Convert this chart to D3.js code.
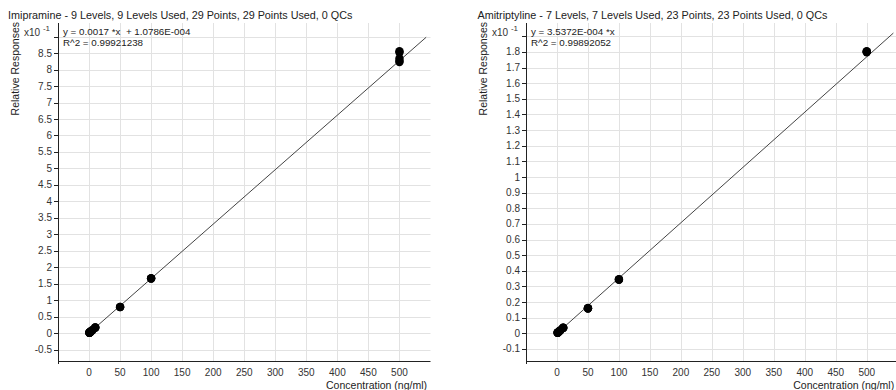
<!DOCTYPE html>
<html>
<head>
<meta charset="utf-8">
<script src="https://cdn.jsdelivr.net/npm/d3@7"></script>
<style>
  body { margin: 0; background: #fff; }
  svg { display: block; font-family: "Liberation Sans", Arial, sans-serif; }
</style>
</head>
<body>
<svg id="chart" width="896" height="390"></svg>
<script>
// Imipramine calibration (concentration ng/ml, response)
const impConc = [0.5, 0.5, 0.5, 1, 1, 1, 2, 2, 2, 2.5, 2.5, 2.5, 5, 5, 5,
    10, 10, 10, 50, 50, 50, 100, 100, 100, 500, 500, 500, 500, 500];
const impResp = [0.0009, 0.0008, 0.0010, 0.0017, 0.0016, 0.0018, 0.0034, 0.0032, 0.0035,
    0.0042, 0.0041, 0.0043, 0.0083, 0.0085, 0.0081, 0.0168, 0.0163, 0.0170,
    0.0795, 0.0788, 0.0792, 0.1660, 0.1655, 0.1665, 0.856, 0.852, 0.834, 0.826, 0.823];

// Amitriptyline calibration
const amiConc = [1, 1, 1, 2, 2, 2, 5, 5, 5, 10, 10, 10, 10, 50, 50, 50, 50,
    100, 100, 100, 500, 500, 500];
const amiResp = [0.00036, 0.00034, 0.00037, 0.0007, 0.00072, 0.00069, 0.0018, 0.0017, 0.00178,
    0.0035, 0.0036, 0.0034, 0.00355, 0.0161, 0.0160, 0.0162, 0.0159,
    0.0345, 0.0342, 0.0347, 0.1802, 0.1798, 0.1805];

// linear fits: [slope, intercept], drawn over fitRange
const impFit = [0.001654, 1.0786e-4];
const amiFit = [3.5372e-4, 0];
const fitRange = [0, 543];

const xTicks = [0, 50, 100, 150, 200, 250, 300, 350, 400, 450, 500];
const impYTicks = [-0.5, 0, 0.5, 1, 1.5, 2, 2.5, 3, 3.5, 4, 4.5, 5, 5.5, 6, 6.5, 7, 7.5, 8, 8.5, 9];
const amiYTicks = [-0.1, 0, 0.1, 0.2, 0.3, 0.4, 0.5, 0.6, 0.7, 0.8, 0.9, 1, 1.1, 1.2, 1.3,
    1.4, 1.5, 1.6, 1.7, 1.8, 1.9];

const svg = d3.select("#chart");

function drawCalibration(opts) {
    const { left, right, top, bottom, conc, resp, fit, yTicks, title, eq, r2, titleX } = opts;
    const mult = 10; // values shown as x10^-1

    // x runs 10% of the span past 0 and the top level
    const xMax = d3.max(conc);
    const x = d3.scaleLinear().domain([-xMax * 0.1, xMax * 1.1]).range([left, right]);

    const yVals = resp.map(v => v * mult);
    const yMin = d3.min(yVals), yMax = d3.max(yVals);
    const yPad = (yMax - yMin) * 0.1;
    const y = d3.scaleLinear().domain([yMin - yPad, yMax + yPad]).range([bottom, top]);

    const g = svg.append("g");

    // grid
    g.selectAll(".vgrid").data(xTicks).enter().append("line")
        .attr("x1", d => Math.round(x(d)) + 0.5).attr("x2", d => Math.round(x(d)) + 0.5)
        .attr("y1", top).attr("y2", bottom)
        .style("stroke", "#e2e2e2");
    g.selectAll(".hgrid").data(yTicks).enter().append("line")
        .attr("x1", left).attr("x2", right)
        .attr("y1", d => Math.round(y(d)) + 0.5).attr("y2", d => Math.round(y(d)) + 0.5)
        .style("stroke", "#e2e2e2");

    // axes
    g.append("line")
        .attr("x1", left + 0.5).attr("x2", left + 0.5)
        .attr("y1", top).attr("y2", bottom + 3)
        .style("stroke", "#222");
    g.append("line")
        .attr("x1", left).attr("x2", right)
        .attr("y1", bottom + 0.5).attr("y2", bottom + 0.5)
        .style("stroke", "#222");

    g.selectAll(".ytick").data(yTicks).enter().append("line")
        .attr("x1", left - 4).attr("x2", left)
        .attr("y1", d => Math.round(y(d)) + 0.5).attr("y2", d => Math.round(y(d)) + 0.5)
        .style("stroke", "#222");

    // last tick label is replaced by the x10 marker
    g.selectAll(".ylab").data(yTicks.slice(0, -1)).enter().append("text")
        .attr("x", left - 6)
        .attr("y", d => y(d) + 3.5)
        .attr("text-anchor", "end")
        .style("font-size", "10px")
        .style("fill", "#333")
        .text(d => d);

    g.selectAll(".xlab").data(xTicks).enter().append("text")
        .attr("x", d => x(d))
        .attr("y", 376)
        .attr("text-anchor", "middle")
        .style("font-size", "10px")
        .style("fill", "#333")
        .text(d => d);

    // x10^-1 marker
    const mk = g.append("text")
        .attr("x", left - 8)
        .attr("y", 36)
        .attr("text-anchor", "end")
        .style("font-size", "10px")
        .style("fill", "#333");
    mk.append("tspan").text("x10 ");
    mk.append("tspan").attr("dy", -5).style("font-size", "8px").text("-1");

    // axis titles
    g.append("text")
        .attr("transform", `translate(${left - 39},22) rotate(-90)`)
        .attr("text-anchor", "end")
        .style("font-size", "10.5px")
        .style("fill", "#222")
        .text("Relative Responses");

    g.append("text")
        .attr("x", right - 3.5)
        .attr("y", 389)
        .attr("text-anchor", "end")
        .style("font-size", "10.5px")
        .style("fill", "#222")
        .text("Concentration (ng/ml)");

    g.append("text")
        .attr("x", titleX)
        .attr("y", 19)
        .style("font-size", "10.8px")
        .style("fill", "#222")
        .text(title);

    // equation
    g.append("text")
        .attr("x", left + 5)
        .attr("y", 35)
        .attr("xml:space", "preserve")
        .style("white-space", "pre")
        .style("font-size", "9.8px")
        .style("fill", "#222")
        .text(eq);
    g.append("text")
        .attr("x", left + 5)
        .attr("y", 46)
        .style("font-size", "9.8px")
        .style("fill", "#222")
        .text(r2);

    // fit line
    const fitLine = d3.line()
        .x(d => x(d))
        .y(d => y((fit[0] * d + fit[1]) * mult));
    g.append("path")
        .datum(fitRange)
        .attr("d", fitLine)
        .style("fill", "none")
        .style("stroke", "#444")
        .style("stroke-width", 1);

    // points
    g.selectAll(".pt").data(conc).enter().append("circle")
        .attr("cx", d => x(d))
        .attr("cy", (d, i) => y(yVals[i]))
        .attr("r", 4.2)
        .style("fill", "#000");
}

drawCalibration({
    left: 58, right: 430.5, top: 23, bottom: 361,
    conc: impConc, resp: impResp, fit: impFit, yTicks: impYTicks,
    titleX: 8,
    title: "Imipramine - 9 Levels, 9 Levels Used, 29 Points, 29 Points Used, 0 QCs",
    eq: "y = 0.0017 *x  + 1.0786E-004",
    r2: "R^2 = 0.99921238"
});

drawCalibration({
    left: 526, right: 897.7, top: 23, bottom: 361,
    conc: amiConc, resp: amiResp, fit: amiFit, yTicks: amiYTicks,
    titleX: 477.5,
    title: "Amitriptyline - 7 Levels, 7 Levels Used, 23 Points, 23 Points Used, 0 QCs",
    eq: "y = 3.5372E-004 *x",
    r2: "R^2 = 0.99892052"
});
</script>
</body>
</html>
